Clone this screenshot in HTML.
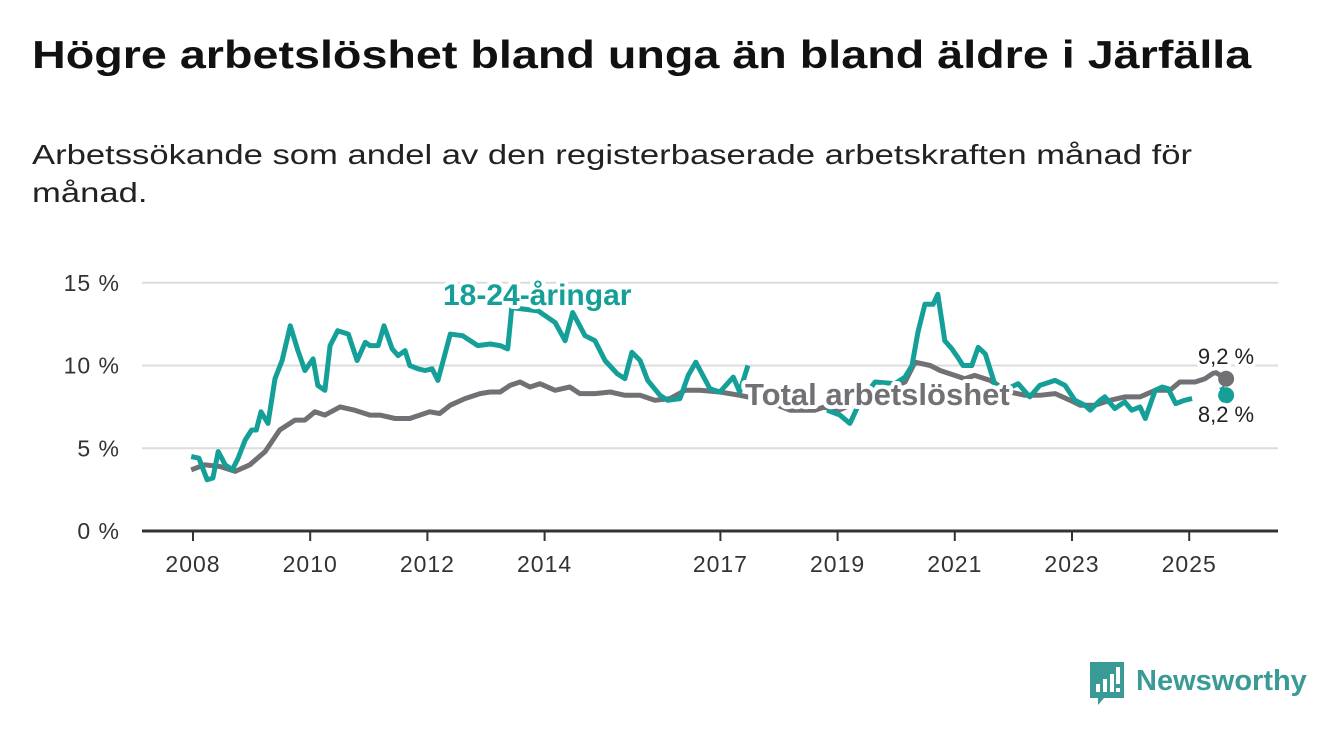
<!DOCTYPE html>
<html><head><meta charset="utf-8">
<style>
body{margin:0;width:1340px;height:734px;background:#fff;font-family:"Liberation Sans","DejaVu Sans",sans-serif;overflow:hidden;position:relative}
h1{position:absolute;left:32px;top:34px;margin:0;font-size:39px;font-weight:bold;color:#111;white-space:nowrap;transform:scaleX(1.197);transform-origin:0 0}
p.sub{position:absolute;left:32px;top:136px;margin:0;font-size:28px;line-height:38px;color:#222;white-space:nowrap;transform:scaleX(1.236);transform-origin:0 0}
svg{position:absolute;left:0;top:0}
</style></head><body>
<h1>Högre arbetslöshet bland unga än bland äldre i Järfälla</h1>
<p class="sub">Arbetssökande som andel av den registerbaserade arbetskraften månad för<br>månad.</p>
<svg id="chart" width="1340" height="734"></svg>
<script>
const yTicks=[0,5,10,15];
const yTickLabels=["0 %","5 %","10 %","15 %"];
const xTicks=[2008,2010,2012,2014,2017,2019,2021,2023,2025];
const youthDates=[2007.97,2008.1,2008.24,2008.34,2008.43,2008.55,2008.67,2008.77,2008.89,2009.0,2009.08,2009.16,2009.28,2009.4,2009.52,2009.66,2009.79,2009.91,2010.05,2010.13,2010.25,2010.34,2010.47,2010.65,2010.8,2010.94,2011.02,2011.16,2011.26,2011.4,2011.5,2011.62,2011.7,2011.84,2011.96,2012.08,2012.18,2012.39,2012.6,2012.86,2013.07,2013.24,2013.37,2013.44,2013.89,2014.18,2014.35,2014.48,2014.69,2014.86,2015.03,2015.24,2015.37,2015.49,2015.63,2015.76,2015.97,2016.1,2016.31,2016.45,2016.58,2016.82,2016.99,2017.22,2017.33,2017.47,2017.9,2018.3,2018.82,2019.04,2019.21,2019.38,2019.64,2019.98,2020.15,2020.27,2020.37,2020.49,2020.63,2020.71,2020.83,2020.95,2021.05,2021.14,2021.29,2021.4,2021.52,2021.69,2021.9,2022.08,2022.28,2022.45,2022.71,2022.88,2023.05,2023.22,2023.31,2023.48,2023.56,2023.73,2023.9,2024.02,2024.16,2024.25,2024.42,2024.54,2024.64,2024.77,2024.92,2025.05,2025.38,2025.55,2025.63];
const youthValues=[4.5,4.4,3.1,3.2,4.8,4.0,3.7,4.4,5.5,6.1,6.1,7.2,6.5,9.2,10.3,12.4,10.9,9.7,10.4,8.8,8.5,11.2,12.1,11.9,10.3,11.4,11.2,11.2,12.4,11.0,10.6,10.9,10.0,9.8,9.7,9.8,9.1,11.9,11.8,11.2,11.3,11.2,11.0,13.5,13.3,12.6,11.5,13.2,11.8,11.5,10.3,9.5,9.2,10.8,10.3,9.1,8.2,7.9,8.0,9.4,10.2,8.6,8.4,9.3,8.4,10.0,null,null,7.3,7.0,6.5,7.8,9.0,8.9,9.3,10.0,12.0,13.7,13.7,14.3,11.5,11.0,10.5,10.0,10.0,11.1,10.7,8.8,8.6,8.9,8.1,8.8,9.1,8.8,7.9,7.6,7.3,7.9,8.1,7.4,7.8,7.3,7.5,6.8,8.5,8.7,8.6,7.7,7.9,8.0,null,8.7,8.2];
const totalDates=[2007.97,2008.2,2008.46,2008.72,2008.97,2009.23,2009.48,2009.74,2009.91,2010.08,2010.25,2010.51,2010.76,2011.02,2011.19,2011.45,2011.7,2011.87,2012.04,2012.21,2012.39,2012.64,2012.9,2013.07,2013.24,2013.41,2013.58,2013.75,2013.92,2014.18,2014.43,2014.6,2014.86,2015.12,2015.37,2015.63,2015.88,2016.14,2016.4,2016.65,2016.99,2017.33,2017.76,2018.19,2018.61,2018.78,2018.96,2019.21,2019.55,2019.89,2020.15,2020.32,2020.58,2020.75,2021.0,2021.17,2021.34,2021.6,2021.94,2022.2,2022.45,2022.71,2022.97,2023.14,2023.39,2023.65,2023.9,2024.16,2024.42,2024.67,2024.84,2025.1,2025.27,2025.44,2025.63];
const totalValues=[3.7,4.0,3.9,3.6,4.0,4.8,6.1,6.7,6.7,7.2,7.0,7.5,7.3,7.0,7.0,6.8,6.8,7.0,7.2,7.1,7.6,8.0,8.3,8.4,8.4,8.8,9.0,8.7,8.9,8.5,8.7,8.3,8.3,8.4,8.2,8.2,7.9,8.0,8.5,8.5,8.4,8.2,7.9,7.3,7.3,7.5,7.2,7.6,7.9,8.6,9.0,10.2,10.0,9.7,9.4,9.2,9.4,9.1,8.4,8.2,8.2,8.3,7.9,7.6,7.6,7.9,8.1,8.1,8.5,8.5,9.0,9.0,9.2,9.6,9.2];
const youthEnd="8,2 %", totalEnd="9,2 %";

const NS="http://www.w3.org/2000/svg";
const svg=document.getElementById('chart');
const X0=193, XS=58.6, Y0=531, YS=16.55;
const x=t=>X0+XS*(t-2008);
const y=v=>Y0-YS*v;
function mk(tag,attrs,parent){const e=document.createElementNS(NS,tag);for(const k in attrs)e.setAttribute(k,attrs[k]);(parent||svg).appendChild(e);return e;}

yTicks.forEach((v,i)=>{
  if(v>0){const g=mk('line',{x1:142,x2:1278,y1:y(v),y2:y(v),stroke:'#dcdcdc','stroke-width':2});
  
  }
  const t=mk('text',{x:120,y:y(v)+8,'text-anchor':'end','font-size':23,'letter-spacing':1,fill:'#333'});
  t.textContent=yTickLabels[i];
  
  
});
const ax=mk('line',{x1:142,x2:1278,y1:Y0,y2:Y0,stroke:'#333','stroke-width':3});


xTicks.forEach(t=>{
  const tk=mk('line',{x1:x(t),x2:x(t),y1:Y0,y2:Y0+10,stroke:'#333','stroke-width':2});
  
  
  const l=mk('text',{x:x(t),y:572,'text-anchor':'middle','font-size':23,'letter-spacing':1,fill:'#333'});
  l.textContent=t;
  
  
});
function path(ds,vs){let d='',pen=false;ds.forEach((t,i)=>{const v=vs[i];if(v==null){pen=false;return;}d+=(pen?'L':'M')+x(t).toFixed(1)+','+y(v).toFixed(1);pen=true;});return d;}
const pt=mk('path',{d:path(totalDates,totalValues),fill:'none',stroke:'#717075','stroke-width':5,'stroke-linejoin':'round'});


const py=mk('path',{d:path(youthDates,youthValues),fill:'none',stroke:'#14a098','stroke-width':5,'stroke-linejoin':'round'});


const lt=totalDates.length-1, ly=youthDates.length-1;
const d1=mk('circle',{cx:x(totalDates[lt]),cy:y(totalValues[lt]),r:8,fill:'#717075'});


const d2=mk('circle',{cx:x(youthDates[ly]),cy:y(youthValues[ly]),r:8,fill:'#14a098'});


function label(txt,xx,yy,col,sz,bold,name,anchor){
  const t=mk('text',{x:xx,y:yy,fill:col,'font-size':sz,'font-weight':bold?'bold':'normal',stroke:'#fff','stroke-width':8,'paint-order':'stroke','stroke-linejoin':'round','text-anchor':anchor||'start'});
  t.textContent=txt;
  
  
}
label('18-24-åringar',443,305,'#14a098',30,true,'youth-series-label');
label('Total arbetslöshet',745,405,'#717075',31,true,'total-series-label');
label(totalEnd,1226,364,'#222',22,false,'total-end-value','middle');
label(youthEnd,1226,422,'#222',22,false,'youth-end-value','middle');

const g=mk('g',{});


mk('path',{d:'M1090,662 h34 v36 h-20 l-6,7 v-7 h-8 z',fill:'#3a9a96'},g);
mk('rect',{x:1096,y:684,width:4,height:8,fill:'#fff'},g);
mk('rect',{x:1103,y:679,width:4,height:13,fill:'#fff'},g);
mk('rect',{x:1110,y:674,width:4,height:18,fill:'#fff'},g);
mk('rect',{x:1116,y:667,width:4,height:17,fill:'#fff'},g);
mk('rect',{x:1116,y:688,width:4,height:4,fill:'#fff'},g);
const lt2=mk('text',{x:1136,y:690,'font-size':29,'font-weight':'bold',fill:'#3a9a96'},g);
lt2.textContent='Newsworthy';
</script>
</body></html>
